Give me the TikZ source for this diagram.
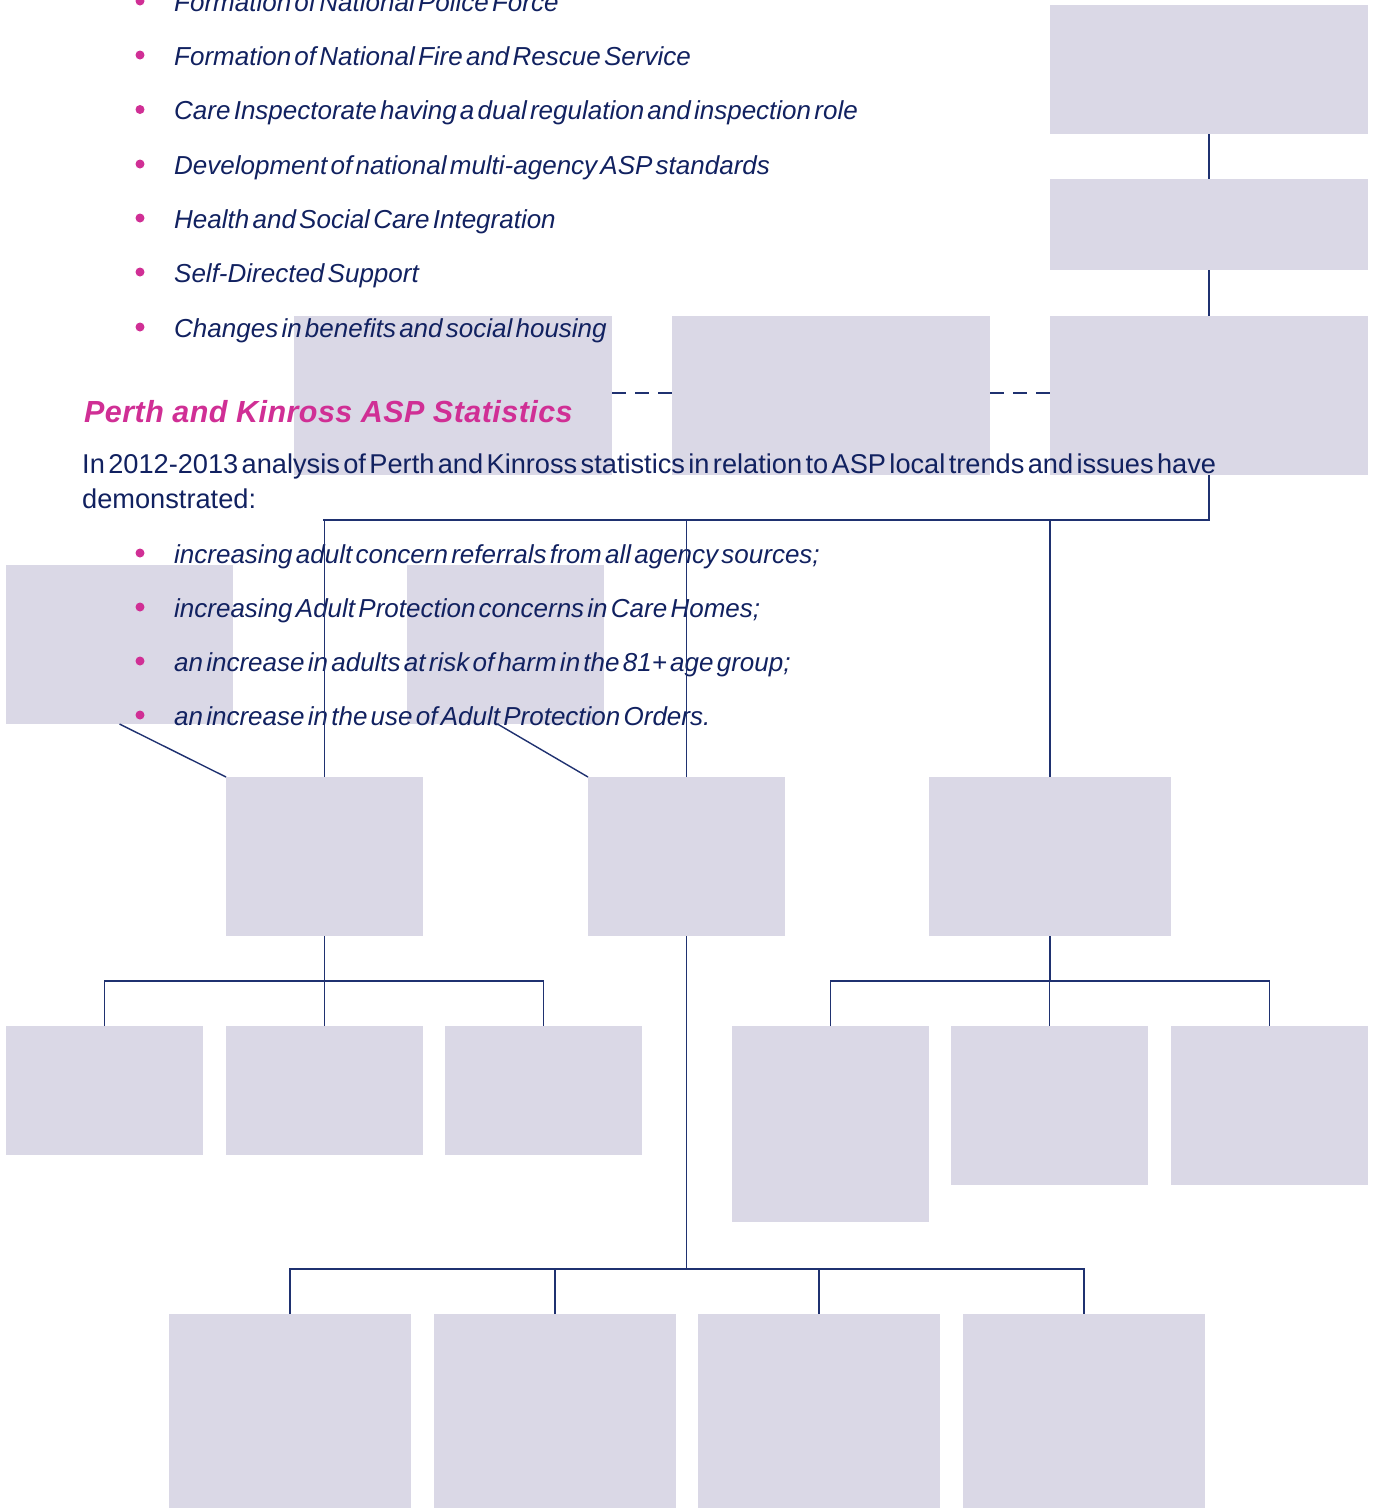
\documentclass[tikz,border=0pt]{standalone}
\usepackage{fontspec}
\setmainfont{Liberation Sans}[WordSpace=0.45]
\newfontfamily\headfamily{Liberation Sans}[WordSpace=0.95,LetterSpace=1.5]
\definecolor{boxfill}{HTML}{DAD8E6}
\definecolor{navy}{HTML}{112160}
\definecolor{linenavy}{HTML}{1F3170}
\definecolor{accent}{HTML}{D02F95}
\newcommand\itemfont{\fontsize{26}{30}\selectfont\itshape}
\newcommand\bodyfont{\fontsize{27.2}{31}\selectfont}
\newcommand\headfont{\headfamily\fontsize{30.5}{34}\selectfont\bfseries\itshape}
\begin{document}
\begin{tikzpicture}[x=1pt,y=-1pt,
  card/.style={fill=boxfill, draw=none, anchor=north west, inner sep=0pt, outer sep=0pt},
  link/.style={draw=linenavy, line width=1.4pt},
  dashlink/.style={link, line width=1.8pt, dash pattern=on 14pt off 9pt},
  item/.style={anchor=base west, inner sep=0pt, text=navy, font=\itemfont},
  body/.style={anchor=base west, inner sep=0pt, text=navy, font=\bodyfont},
  dot/.style={circle, fill=accent, minimum size=9pt, inner sep=0pt}]
\useasboundingbox (0,0) rectangle (1378,1508);
\clip (0,0) rectangle (1378,1508);

% right-hand column and the dashed row
\node[card, minimum width=318pt, minimum height=129pt] (top1) at (1050,5) {};
\node[card, minimum width=318pt, minimum height=91pt]  (top2) at (1050,179) {};
\node[card, minimum width=318pt, minimum height=159pt] (top3) at (1050,316) {};
\node[card, minimum width=318pt, minimum height=159pt] (d1) at (294,316) {};
\node[card, minimum width=318pt, minimum height=159pt] (d2) at (672,316) {};

% side boxes
\node[card, minimum width=227pt, minimum height=159pt] (a1) at (6,565) {};
\node[card, minimum width=197pt, minimum height=159pt] (a2) at (407,565) {};

% second tier
\node[card, minimum width=197pt, minimum height=159pt] (m1) at (226,777) {};
\node[card, minimum width=197pt, minimum height=159pt] (m2) at (588,777) {};
\node[card, minimum width=242pt, minimum height=159pt] (m3) at (929,777) {};

% third tier, left group
\node[card, minimum width=197pt, minimum height=129pt] (l1) at (6,1026) {};
\node[card, minimum width=197pt, minimum height=129pt] (l2) at (226,1026) {};
\node[card, minimum width=197pt, minimum height=129pt] (l3) at (445,1026) {};
% third tier, right group
\node[card, minimum width=197pt, minimum height=196pt] (r1) at (732,1026) {};
\node[card, minimum width=197pt, minimum height=159pt] (r2) at (951,1026) {};
\node[card, minimum width=197pt, minimum height=159pt] (r3) at (1171,1026) {};
% bottom tier
\node[card, minimum width=242pt, minimum height=200pt] (b1) at (169,1314) {};
\node[card, minimum width=242pt, minimum height=200pt] (b2) at (434,1314) {};
\node[card, minimum width=242pt, minimum height=200pt] (b3) at (698,1314) {};
\node[card, minimum width=242pt, minimum height=200pt] (b4) at (963,1314) {};

% text
\foreach \yy/\name/\txt in {
  11/p1/{Formation of National Police Force},
  65/p2/{Formation of National Fire and Rescue Service},
  119.5/p3/{Care Inspectorate having a dual regulation and inspection role},
  174/p4/{Development of national multi-agency ASP standards},
  228/p5/{Health and Social Care Integration},
  282/p6/{Self-Directed Support},
  337/p7/{Changes in benefits and social housing},
  563/q1/{increasing adult concern referrals from all agency sources;},
  617/q2/{increasing Adult Protection concerns in Care Homes;},
  671/q3/{an increase in adults at risk of harm in the 81+ age group;},
  725/q4/{an increase in the use of Adult Protection Orders.}}{
  \node[dot] (\name dot) at (140,\yy-10) {};
  \node[item] (\name) at (174,\yy) {\txt};
}
\node[anchor=base west, inner sep=0pt, text=accent, font=\headfont] (head) at (84,422) {Perth and Kinross ASP Statistics};
\node[body] (para1) at (82,473) {In 2012-2013 analysis of Perth and Kinross statistics in relation to ASP local trends and issues have};
\node[body] (para2) at (82,508) {demonstrated:};

% connectors
\coordinate (busTop) at (323,520);
\coordinate (busLeft) at (104,981);
\coordinate (busRight) at (830,981);
\coordinate (busLow) at (290,1269);

\draw[link] (top1.south) -- (top2.north);
\draw[link] (top2.south) -- (top3.north);
\draw[dashlink] ([yshift=2.5pt]d1.east) -- ([yshift=2.5pt]d2.west);
\draw[dashlink] ([yshift=2.5pt]d2.east) -- ([yshift=2.5pt]top3.west);

\draw[link] (top3.south) |- (busTop) -| (m1.north);
\draw[link] (m2.north) -- (m2.north |- busTop);
\draw[link] (m3.north) -- (m3.north |- busTop);

\draw[link] (a1.south) -- (m1.north west);
\draw[link] ([xshift=-8pt]a2.south) -- (m2.north west);

\draw[link] (m1.south) -- (m1.south |- busLeft);
\draw[link] (l1.north) |- (l3.north |- busLeft) -- (l3.north);
\draw[link] (l2.north) -- (l2.north |- busLeft);

\draw[link] (m3.south) -- (m3.south |- busRight);
\draw[link] (r1.north) |- (r3.north |- busRight) -- (r3.north);
\draw[link] (r2.north) -- (r2.north |- busRight);

\draw[link] (m2.south) -- (m2.south |- busLow);
\draw[link] (b1.north) |- (b4.north |- busLow) -- (b4.north);
\draw[link] (b2.north) -- (b2.north |- busLow);
\draw[link] (b3.north) -- (b3.north |- busLow);
\end{tikzpicture}
\end{document}
